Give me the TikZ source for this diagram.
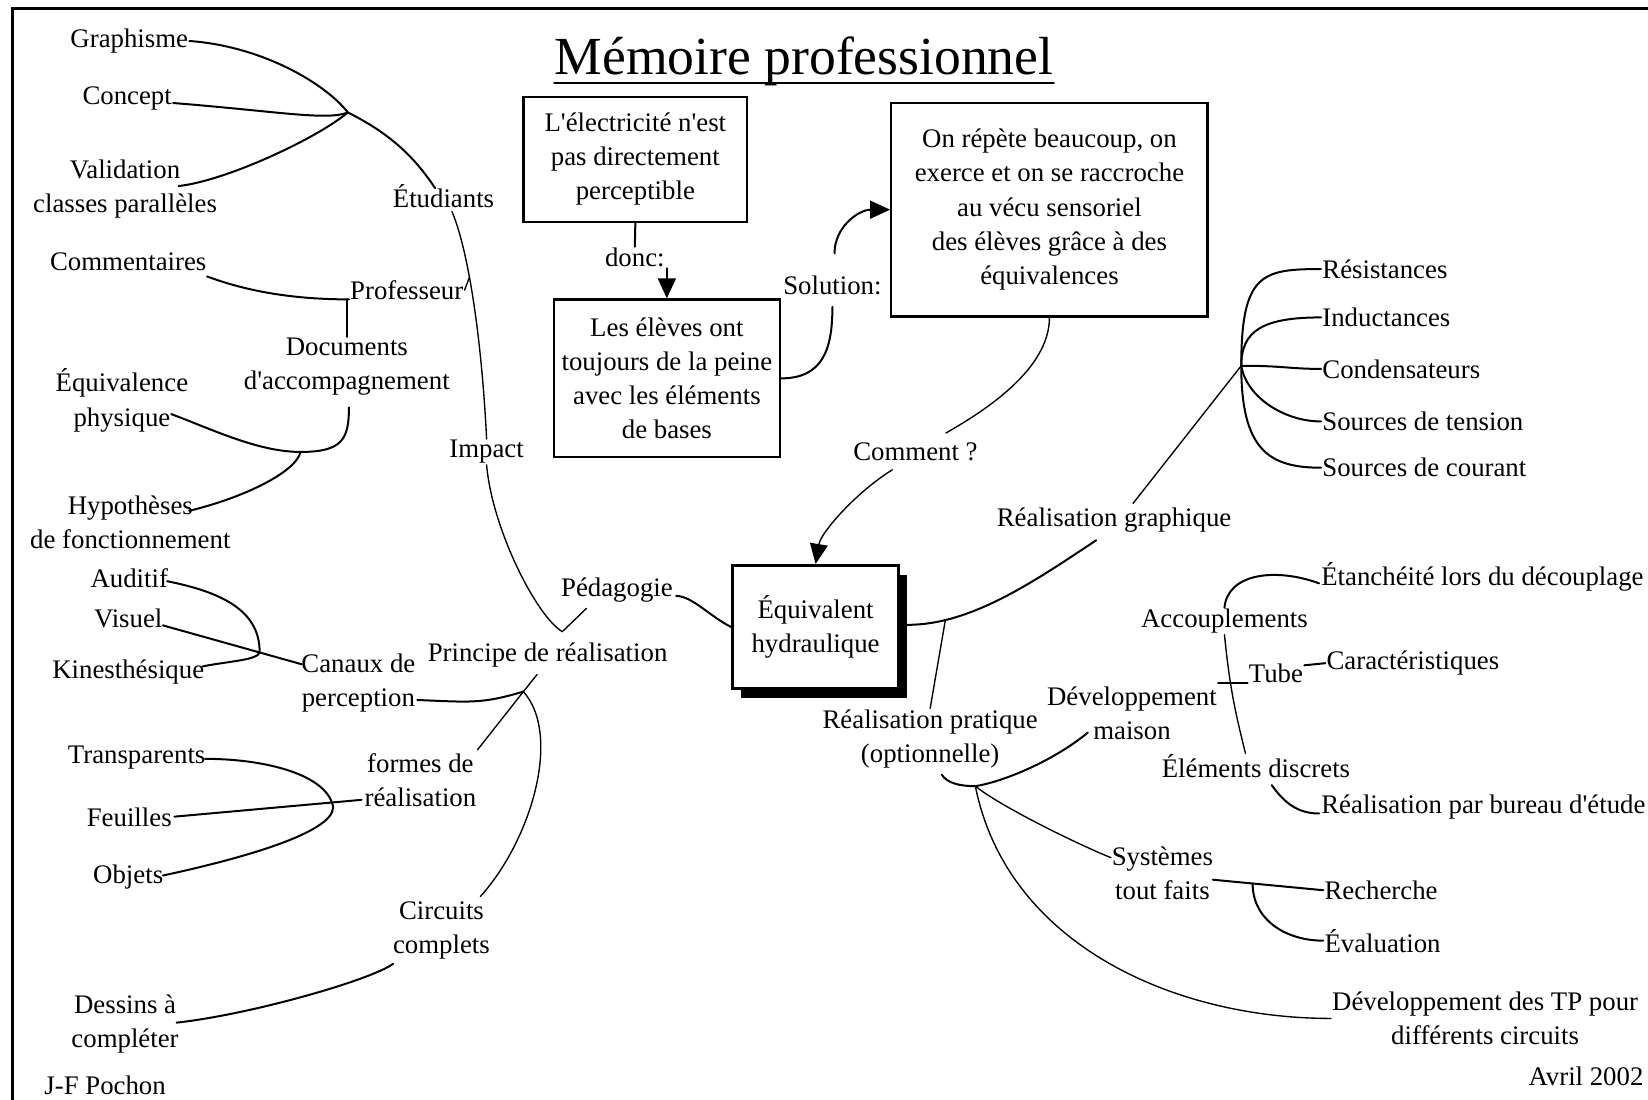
\documentclass[tikz,border=0pt]{standalone}
\usepackage{fontspec}
\setmainfont{Liberation Serif}
\usetikzlibrary{arrows.meta, calc, shadows}
\tikzstyle{txt} = [inner sep=1pt, align=center, font=\fontsize{25.5}{32.5}\selectfont]
\tikzstyle{box} = [rectangle, draw=black, line width=2.2pt, align=center, inner sep=0pt,
font=\fontsize{25.5}{32.5}\selectfont]
\tikzstyle{trait} = [line width=1.9pt]
\tikzstyle{fin} = [line width=1.3pt]
\tikzstyle{arrow} = [-{Triangle[length=19pt,width=17pt]}]

\begin{document}
\begin{tikzpicture}[x=1pt, y=-1pt, line cap=round]
  \clip (0,0) rectangle (1568,1046);
  \draw[line width=3pt] (12,8) rectangle (1620,1100);

  \node (title) [anchor=base, inner sep=0pt, font=\fontsize{51}{60}\selectfont] at (765,71) {Mémoire professionnel};
  \draw[line width=2.6pt] ($(title.base west)+(0,8)$) -- ($(title.base east)+(0,8)$);

  % branche gauche
  \node (graph) [txt] at (123,39) {Graphisme};
  \node (concept) [txt] at (121,94) {Concept};
  \node (valid) [txt] at (119,180) {Validation\\classes parallèles};
  \node (etud) [txt] at (422,187) {Étudiants};
  \node (comm) [txt] at (122,249) {Commentaires};
  \node (prof) [txt] at (387,276) {Professeur};
  \node (docs) [txt] at (330,349) {Documents\\d\textquotesingle accompagnement};
  \node (equiv) [txt] at (116,381) {Équivalence\\physique};
  \node (impact) [txt] at (463,430) {Impact};
  \node (hyp) [txt] at (124,497) {Hypothèses\\de fonctionnement};
  \node (audit) [txt] at (123,550) {Auditif};
  \node (visuel) [txt] at (122,588) {Visuel};
  \node (kines) [txt] at (122,639) {Kinesthésique};
  \node (peda) [txt] at (587,561) {Pédagogie};
  \node (canaux) [txt] at (341,650) {Canaux de\\perception};
  \node (princ) [txt] at (521,623) {Principe de réalisation};
  \node (transp) [txt] at (130,721) {Transparents};
  \node (formes) [txt] at (400,742) {formes de\\réalisation};
  \node (feuil) [txt] at (123,778) {Feuilles};
  \node (objets) [txt] at (122,834) {Objets};
  \node (circ) [txt] at (420,885) {Circuits\\complets};
  \node (dessins) [txt] at (119,974) {Dessins à\\compléter};
  \node (auteur) [txt] at (100,1033) {J-F Pochon};

  % cadres du centre
  \node (elec) [box, minimum width=213pt, minimum height=119pt] at (604.5,151.5)
  {L\textquotesingle électricité n\textquotesingle est\\pas directement\\perceptible};
  \node (donc) [txt] at (604,245) {donc:};
  \node (peine) [box, minimum width=215pt, minimum height=150pt] at (634.5,360)
  {Les élèves ont\\toujours de la peine\\avec les éléments\\de bases};
  \node (solution) [txt] at (792,272) {Solution:};
  \node (repete) [box, minimum width=301pt, minimum height=203pt] at (998.5,199.5)
  {On répète beaucoup, on\\exerce et on se raccroche\\au vécu sensoriel\\des élèves grâce à des\\équivalences};
  \node (comment) [txt] at (871,430) {Comment ?};
  \node (hydro) [box, line width=3pt, minimum width=158pt, minimum height=117pt, fill=white,
  drop shadow={shadow xshift=8pt, shadow yshift=-9pt, opacity=1, fill=black}] at (776,596.5)
  {Équivalent\\hydraulique};

  % branche droite
  \node (rgraph) [txt] at (1060,495) {Réalisation graphique};
  \node (resist) [txt, anchor=west] at (1257,256) {Résistances};
  \node (induct) [txt, anchor=west] at (1257,302) {Inductances};
  \node (conden) [txt, anchor=west] at (1257,351) {Condensateurs};
  \node (stension) [txt, anchor=west] at (1257,401) {Sources de tension};
  \node (scourant) [txt, anchor=west] at (1257,445) {Sources de courant};
  \node (etanch) [txt, anchor=west] at (1256,549) {Étanchéité lors du découplage};
  \node (accoupl) [txt] at (1165,591) {Accouplements};
  \node (tube) [txt] at (1214,641) {Tube};
  \node (carac) [txt, anchor=west] at (1261,631) {Caractéristiques};
  \node (devmaison) [txt] at (1077,679) {Développement\\maison};
  \node (rpratique) [txt] at (885,703) {Réalisation pratique\\(optionnelle)};
  \node (elements) [txt] at (1195,729) {Éléments discrets};
  \node (rbureau) [txt, anchor=west] at (1256,768) {Réalisation par bureau d\textquotesingle étude};
  \node (systemes) [txt] at (1106,831) {Systèmes\\tout faits};
  \node (recherche) [txt, anchor=west] at (1259,847) {Recherche};
  \node (evaluation) [txt, anchor=west] at (1259,895) {Évaluation};
  \node (devtp) [txt] at (1413,969) {Développement des TP pour\\différents circuits};
  \node (date) [txt] at (1509,1024) {Avril 2002};

  \coordinate (jEtud) at (331,107);
  \coordinate (jDoc) at (286,430);
  \coordinate (jPrin) at (535,601);
  \coordinate (jReal) at (498,658);
  \coordinate (jCanaux) at (247,620);
  \coordinate (jFormes) at (317,768);
  \coordinate (jGraph) at (1181,348);
  \coordinate (jPrat) at (928,748);

  \draw[trait] (graph.east) .. controls +(70,5) and +(-21,-27) .. (jEtud)
  .. controls +(40,20) and +(-20,-30) .. ($(etud)+(-8,-8)$);
  \draw[trait] ($(concept.east)+(0,4)$) .. controls +(100,8) and +(-20,8) .. (jEtud);
  \draw[trait] ($(valid)+(51,-3)$) .. controls +(45,-5) and +(-30,25) .. (jEtud);
  \draw[fin] ($(etud.south)+(8,2)$) .. controls +(15,35) and +(-5,-100) .. (impact.north)
  coordinate[pos=0.4] (jProf);
  \draw[fin] (prof.east) -- (jProf);
  \draw[trait] ($(comm)+(75,14)$) .. controls +(40,15) and +(-50,0) .. (prof.base west);
  \draw[trait] (docs.north) -- (docs.north |- prof.base west);
  \draw[trait] ($(equiv)+(47,13)$) .. controls +(40,15) and +(-40,0) .. (jDoc)
  .. controls +(40,0) and +(0,30) .. ($(docs.south)+(2,10)$);
  \draw[trait] ($(hyp)+(56,-11)$) .. controls +(50,-12) and +(-5,20) .. (jDoc);

  \draw[fin] (impact.south) .. controls +(5,60) and +(-25,-15) .. (jPrin);
  \draw[fin] ($(peda.south)+(-29,5)$) -- (jPrin);
  \draw[trait] ($(peda.east)+(2,6)$) .. controls +(15,0) and +(-20,-10) .. (hydro.west);
  \draw[fin] ($(princ.south)+(-10,6)$) -- (jReal);
  \draw[trait] (jReal) .. controls +(-40,12) and +(50,2) .. ($(canaux)+(56,16)$);
  \draw[fin] (jReal) -- ($(formes.north east)+(0,-2)$);
  \draw[fin] (jReal) .. controls +(37,42) and +(48,-53) .. ($(circ)+(37,-32)$);
  \draw[trait] ($(circ)+(-46,32)$) .. controls +(-20,15) and +(72,-8) .. ($(dessins)+(49,-1)$);

  \draw[trait] ($(audit)+(36,3)$) .. controls +(50,10) and +(0,-40) .. (jCanaux)
  .. controls +(0,8) and +(25,-5) .. ($(kines)+(71,-5)$);
  \draw[trait] ($(visuel)+(33,7)$) -- ($(canaux)+(-54,-18)$);
  \draw[trait] ($(transp)+(65,1)$) .. controls +(60,0) and +(-5,-30) .. (jFormes)
  .. controls +(0,25) and +(70,-15) .. ($(objets)+(33,-1)$);
  \draw[trait] ($(feuil)+(43,-1)$) -- ($(formes)+(-56,19)$);

  \draw[trait] (elec.south) -- (donc.north);
  \draw[trait, arrow] (donc.south -| peine.north) -- (peine.north);
  \draw[trait] (peine.east) .. controls +(40,0) and +(0,40) .. ($(solution)+(0,20)$);
  \draw[trait, arrow] ($(solution)+(2,-31)$) .. controls +(0,-25) and +(-30,0) .. (repete.west);
  \draw[fin] (repete.south) .. controls +(0,50) and +(35,-20) .. ($(comment)+(29,-18)$);
  \draw[fin, arrow] ($(comment)+(-22,17)$) .. controls +(-34,21) and +(5,-30) .. (hydro.north);

  \draw[trait] ($(hydro.east)+(7,-2)$) .. controls +(60,0) and +(-60,40) .. ($(rgraph)+(-17,19)$)
  coordinate[pos=0.2] (jHydro);
  \draw[fin] (jHydro) -- (rpratique.north);
  \draw[fin] ($(rgraph)+(18,-16)$) -- (jGraph);
  \draw[trait] (jGraph) .. controls +(0,-88) and +(-56,0) .. (resist.west);
  \draw[trait] (jGraph) .. controls +(0,-33) and +(-56,0) .. (induct.west);
  \draw[trait] (jGraph) .. controls +(40,0) and +(-30,0) .. (conden.west);
  \draw[trait] (jGraph) .. controls +(5,30) and +(-35,0) .. (stension.west);
  \draw[trait] (jGraph) .. controls +(0,80) and +(-50,0) .. (scourant.west);

  \draw[trait] ($(rpratique)+(11,34)$) .. controls +(5,8) and +(-15,0) .. (jPrat)
  .. controls +(30,-5) and +(-30,25) .. ($(devmaison)+(-42,18)$);
  \draw[fin] (jPrat) .. controls +(25,20) and +(-30,-12) .. ($(systemes)+(-49,-15)$);
  \draw[fin] (jPrat) .. controls +(30,150) and +(-150,0) .. (devtp.west);
  \draw[trait] ($(systemes)+(48,6)$) -- (recherche.west) coordinate[pos=0.36] (jSys);
  \draw[trait] (jSys) .. controls +(0,35) and +(-35,0) .. (evaluation.west);

  \draw[trait] (devmaison.east |- tube.base west) -- (tube.base west);
  \draw[trait] (accoupl.north) .. controls +(3,-33) and +(-41,-15) .. ($(etanch.west)+(-1,6)$);
  \draw[fin] (accoupl.south) .. controls +(5,50) and +(-10,-40) .. ($(elements.north)+(-10,0)$);
  \draw[trait] ($(elements)+(15,18)$) .. controls +(12,17) and +(-20,0) .. ($(rbureau.west)+(-1,6)$);
  \draw[trait] ($(tube)+(27,-8)$) -- (carac.west);
\end{tikzpicture}
\end{document}
